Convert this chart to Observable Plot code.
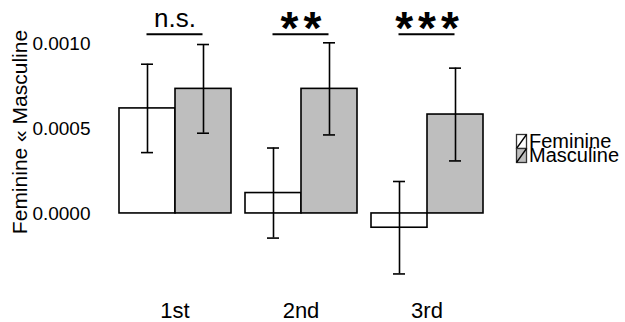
<!DOCTYPE html>
<html><head><meta charset="utf-8">
<script src="https://cdn.jsdelivr.net/npm/d3@7"></script>
<script src="https://cdn.jsdelivr.net/npm/@observablehq/plot@0.6"></script>
<style>
body{margin:0;background:#fff;}
#wrap{position:relative;width:625px;height:322px;font-family:"Liberation Sans",Arial,Helvetica,sans-serif;}
#wrap svg.legend{position:absolute;left:0;top:0;}
</style></head><body><div id="wrap"></div>
<script>
const groups = ["1st", "2nd", "3rd"];
const sexes = ["Feminine", "Masculine"];
const femMeans = [0.000618, 0.000120, -0.000084];
const mascMeans = [0.000733, 0.000733, 0.000582];
const femSE = [0.000260, 0.000265, 0.000272];
const mascSE = [0.000261, 0.000271, 0.000273];
const sigLabels = ["n.s.", "**", "***"];
const yTicks = [0, 0.0005, 0.0010];
const yTitle = "Feminine « Masculine";
const fills = ["#ffffff", "#bebebe"];

const rows = [];
groups.forEach((g, i) => {
  rows.push({group: g, sex: sexes[0], mean: femMeans[i], lo: femMeans[i] - femSE[i], hi: femMeans[i] + femSE[i]});
  rows.push({group: g, sex: sexes[1], mean: mascMeans[i], lo: mascMeans[i] - mascSE[i], hi: mascMeans[i] + mascSE[i]});
});
const sigLevel = d3.max(rows, d => d.hi) + 0.00005;
const sig = groups.map((g, i) => ({group: g, label: sigLabels[i], level: sigLevel}));
const isStar = d => d.label.startsWith("*");

const font = '"Liberation Sans", Arial, Helvetica, sans-serif';
const starSpacing = 5;
const plot = Plot.plot({
  width: 625, height: 322,
  marginTop: 0, marginBottom: 20, marginLeft: 117, marginRight: 140,
  style: {fontFamily: font, fontSize: "18px", background: "white", color: "black", overflow: "visible"},
  fx: {domain: groups, paddingInner: 0.1, paddingOuter: 0, label: null, axis: null},
  x: {domain: sexes, padding: 0, axis: null},
  y: {domain: [-0.000524, 0.001253], axis: null},
  color: {domain: sexes, range: fills},
  marks: [
    Plot.axisY({ticks: yTicks, tickFormat: d3.format(".4f"), tickSize: 0, tickPadding: 28, fontSize: 19, label: null}),
    Plot.axisFx({anchor: "bottom", tickSize: 0, tickPadding: 0, fontSize: 22, label: null}),
    Plot.barY(rows, {fx: "group", x: "sex", y: "mean", fill: "sex", stroke: "black", strokeWidth: 1.6}),
    Plot.ruleX(rows, {fx: "group", x: "sex", y1: "lo", y2: "hi", stroke: "black", strokeWidth: 1.6}),
    Plot.tickY(rows, {fx: "group", x: "sex", y: "lo", insetLeft: 22, insetRight: 22, stroke: "black", strokeWidth: 1.6}),
    Plot.tickY(rows, {fx: "group", x: "sex", y: "hi", insetLeft: 22, insetRight: 22, stroke: "black", strokeWidth: 1.6}),
    Plot.ruleY(sig, {fx: "group", y: "level", insetLeft: 28.5, insetRight: 28.5, stroke: "black", strokeWidth: 2}),
    Plot.text(sig.filter(d => !isStar(d)), {fx: "group", y: "level", text: "label", fontSize: 26, lineAnchor: "bottom", dy: -7, fill: "black"}),
    Plot.text(sig.filter(isStar), {fx: "group", y: "level", text: "label", fontSize: 46, fontWeight: "bold", lineAnchor: "bottom", dy: 9.5, dx: starSpacing / 2, fill: "black"}),
    Plot.text([{group: groups[0], t: yTitle}], {fx: "group", text: "t", frameAnchor: "left", textAnchor: "middle", rotate: -90, lineAnchor: "top", dx: -106, dy: -19.5, fontSize: 21, fill: "black"})
  ]
});
d3.select(plot).selectAll("text").filter(function() { return this.textContent.startsWith("*"); })
  .style("letter-spacing", starSpacing + "px");
const wrap = document.getElementById("wrap");
wrap.appendChild(plot);

// legend
const leg = d3.select(wrap).append("svg").attr("class", "legend")
  .attr("width", 625).attr("height", 322)
  .style("font-family", font);
sexes.forEach((s, i) => {
  const g = leg.append("g").attr("transform", `translate(516.5,${134.5 + 14 * i})`);
  g.append("rect").attr("width", 10).attr("height", 14).attr("fill", fills[i]).attr("stroke", "#333").attr("stroke-width", 1.3);
  g.append("line").attr("x1", 0).attr("y1", 14).attr("x2", 10).attr("y2", 0).attr("stroke", "black").attr("stroke-width", 1.3);
  g.append("text").attr("x", 12.5).attr("y", 13.5).attr("font-size", 20).attr("fill", "black").text(s);
});
</script></body></html>
